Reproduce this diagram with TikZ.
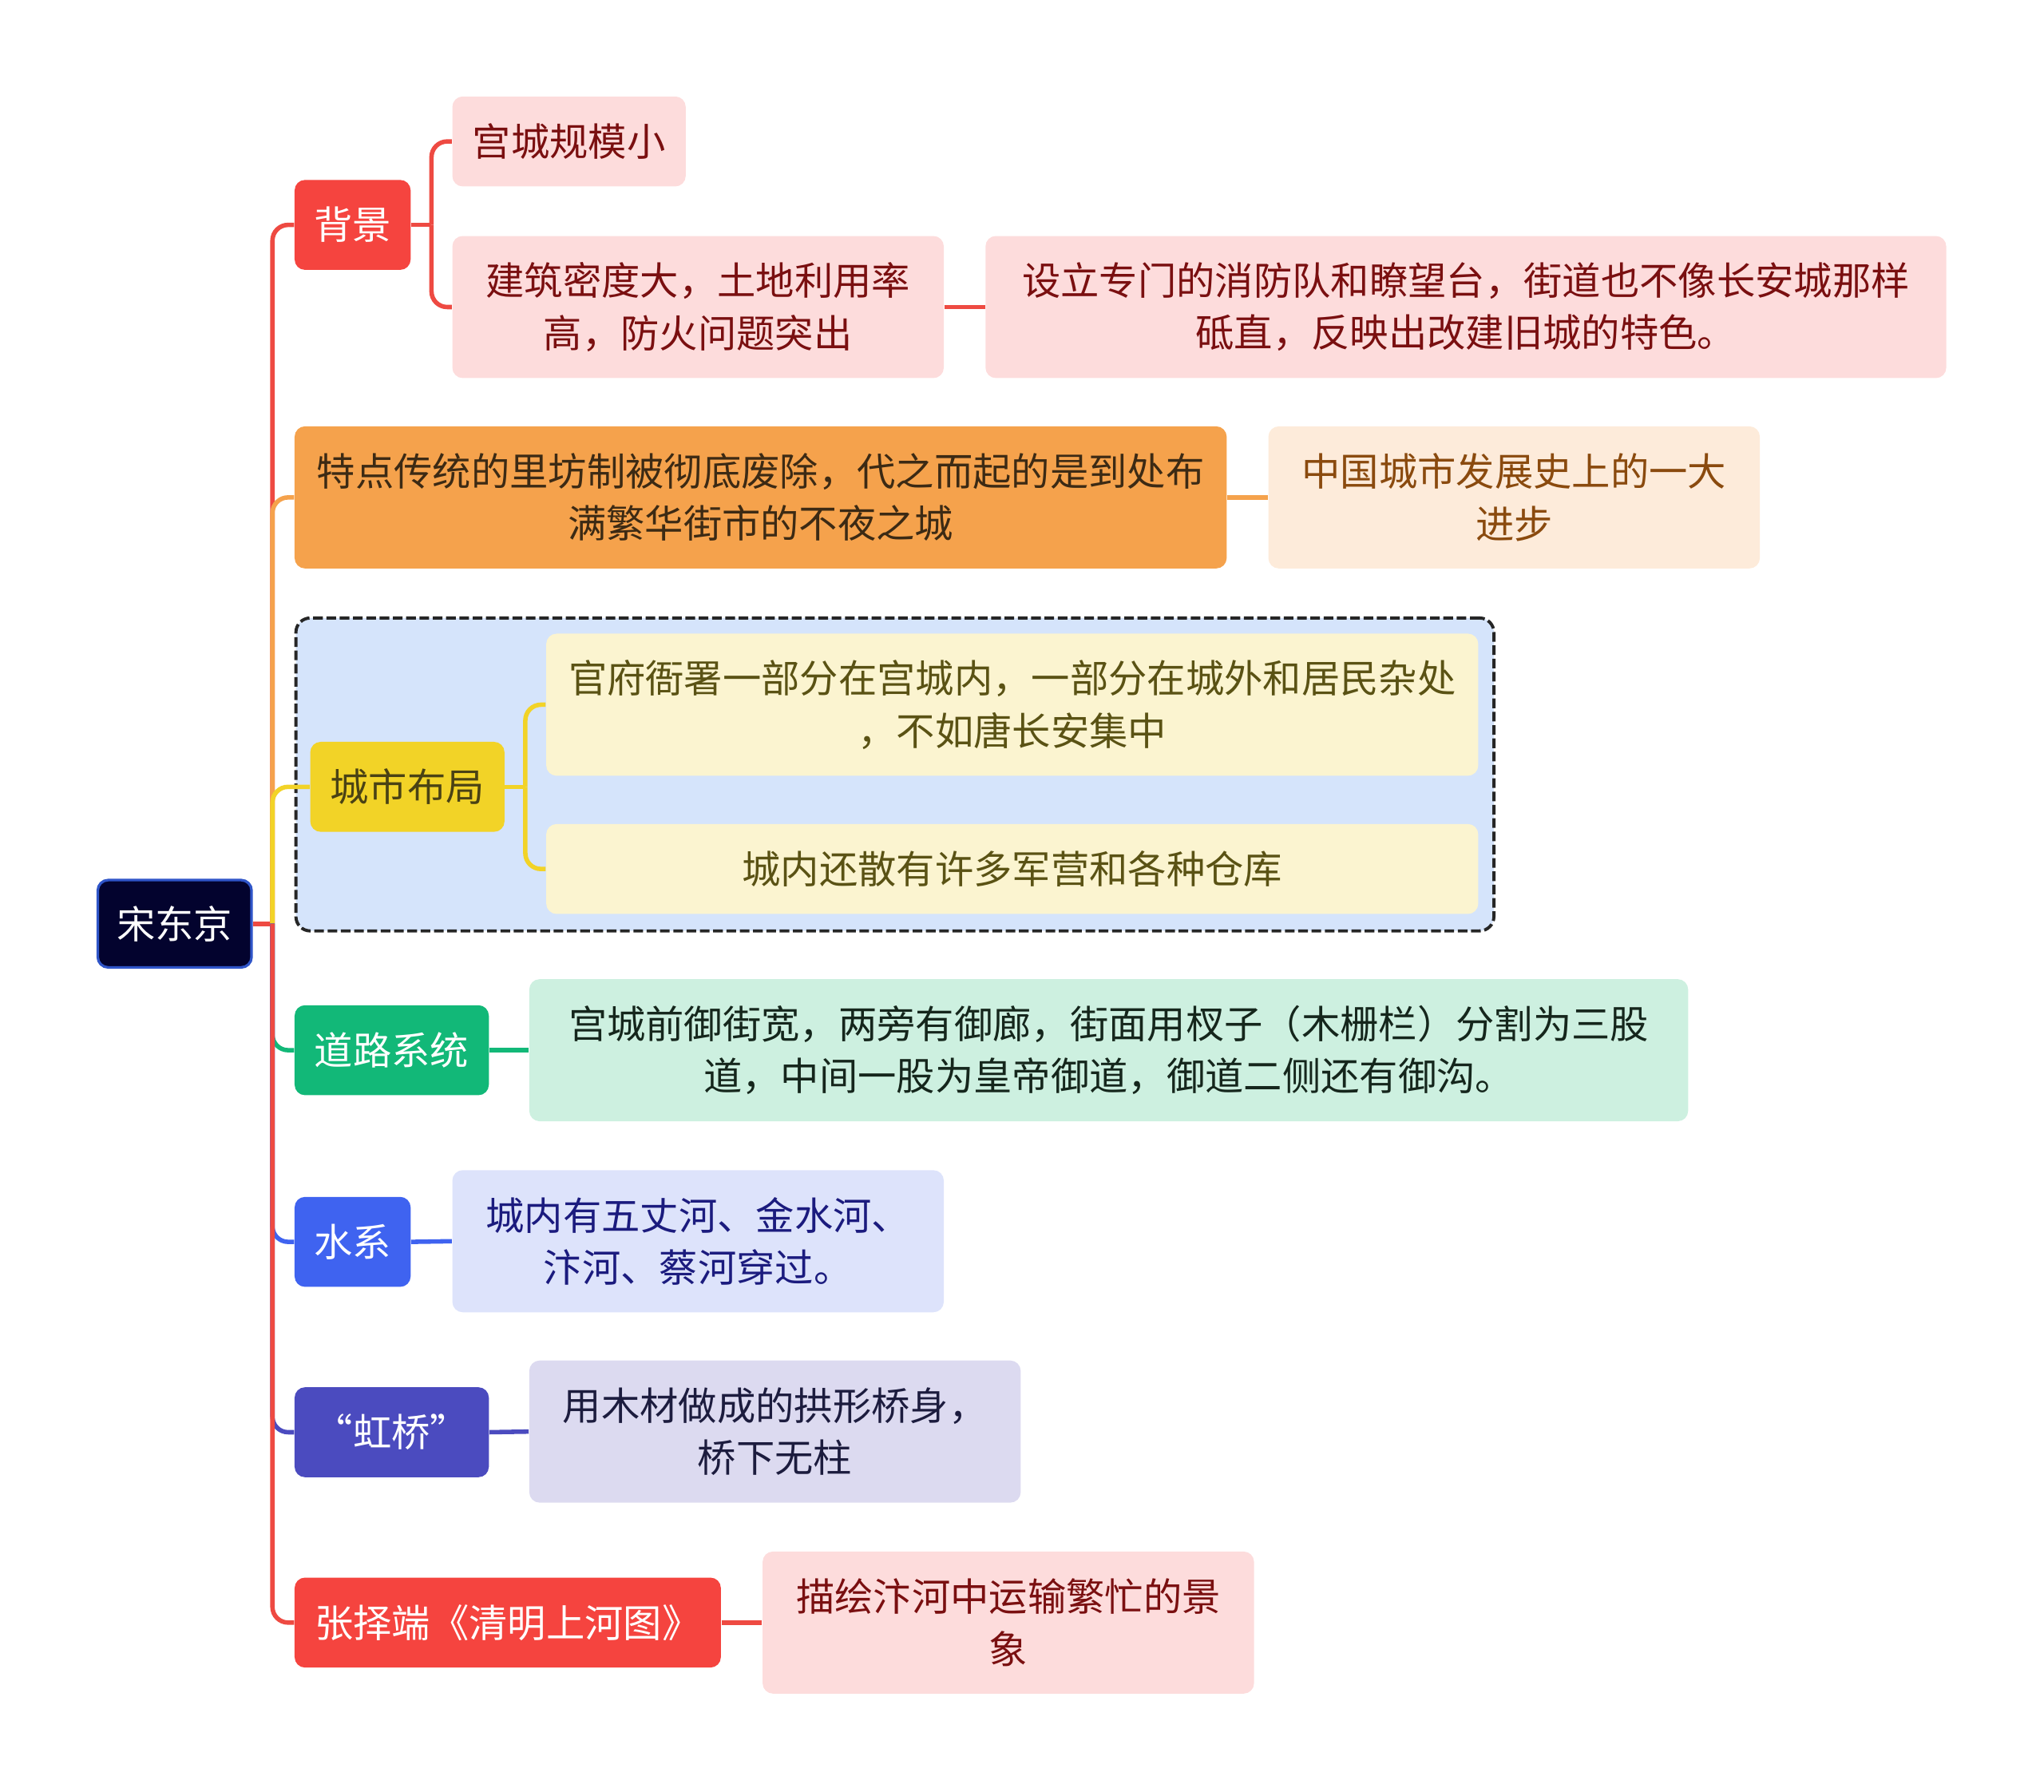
\documentclass[tikz,border=0pt]{standalone}
\usepackage{fontspec}
\setmainfont{Noto Sans CJK SC}
\usetikzlibrary{backgrounds}
\definecolor{cRed}{HTML}{F5443F}
\definecolor{cRedLine}{HTML}{EE4A42}
\definecolor{cPink}{HTML}{FDDCDC}
\definecolor{cRedTxt}{HTML}{7A0F10}
\definecolor{cOrange}{HTML}{F5A24C}
\definecolor{cOrangeTxt}{HTML}{3C2A14}
\definecolor{cPeach}{HTML}{FDEBDA}
\definecolor{cPeachTxt}{HTML}{8A4A0E}
\definecolor{cYellow}{HTML}{F2D327}
\definecolor{cYellowTxt}{HTML}{4A4214}
\definecolor{cLYellow}{HTML}{FBF4D0}
\definecolor{cLYellowTxt}{HTML}{5A5214}
\definecolor{cGroup}{HTML}{D5E4FB}
\definecolor{cGroupBd}{HTML}{262626}
\definecolor{cGreen}{HTML}{12B878}
\definecolor{cMint}{HTML}{CDF0E0}
\definecolor{cMintTxt}{HTML}{15261C}
\definecolor{cBlue}{HTML}{3F63F0}
\definecolor{cLBlue}{HTML}{DDE3FB}
\definecolor{cLBlueTxt}{HTML}{1B1B7E}
\definecolor{cIndigo}{HTML}{4B4BBF}
\definecolor{cLIndigo}{HTML}{DCDAF0}
\definecolor{cLIndigoTxt}{HTML}{1C1C3E}
\definecolor{cRoot}{HTML}{03032E}
\definecolor{cRootBd}{HTML}{2F55C8}
\begin{document}
\begin{tikzpicture}[x=0.5pt,y=-0.5pt,
  every node/.style={font=\fontsize{14.8}{20}\selectfont, align=center, inner sep=0pt},
  box/.style 2 args={rectangle, rounded corners=4pt, minimum width=#1*0.5pt, minimum height=#2*0.5pt},
  ln/.style={line width=1.7pt, rounded corners=6pt}]
\useasboundingbox (0,0) rectangle (1568,1374);

% junction coordinates
\coordinate (rj) at (209,708.5);
\coordinate (bjx) at (331,172.5);
\coordinate (cjx) at (403,603.5);

% nodes
\node[box={118}{67}, fill=cRoot, draw=cRootBd, line width=1pt, text=white] (root) at (134,708.5) {宋东京};

\node[box={89}{69}, fill=cRed, text=white] (bg) at (270.5,172.5) {背景};
\node[box={179}{69}, fill=cPink, text=cRedTxt] (gc) at (436.5,108.5) {宫城规模小};
\node[box={377}{109}, fill=cPink, text=cRedTxt] (jz) at (535.5,235.5) {建筑密度大，土地利用率\\高，防火问题突出};
\node[box={737}{109}, fill=cPink, text=cRedTxt] (sl) at (1124.5,235.5) {设立专门的消防队和瞭望台，街道也不像长安城那样\\砥直，反映出改建旧城的特色。};

\node[box={715}{109}, fill=cOrange, text=cOrangeTxt] (td) at (583.5,381.5) {特点传统的里坊制被彻底废除，代之而起的是到处布\\满繁华街市的不夜之城};
\node[box={377}{109}, fill=cPeach, text=cPeachTxt] (zg) at (1161.5,381.5) {中国城市发展史上的一大\\进步};

\node[box={149}{69}, fill=cYellow, text=cYellowTxt] (cs) at (312.5,603.5) {城市布局};
\node[box={715}{109}, fill=cLYellow, text=cLYellowTxt] (gf) at (776.5,540.5) {官府衙署一部分在宫城内，一部分在城外和居民杂处\\，不如唐长安集中};
\node[box={715}{69}, fill=cLYellow, text=cLYellowTxt] (cn) at (776.5,666.5) {城内还散有许多军营和各种仓库};

\node[box={149}{69}, fill=cGreen, text=white] (dl) at (300.5,805.5) {道路系统};
\node[box={889}{109}, fill=cMint, text=cMintTxt] (gq) at (850.5,805.5) {宫城前御街宽，两旁有御廊，街面用杈子（木栅栏）分割为三股\\道，中间一股为皇帝御道，御道二侧还有御沟。};

\node[box={89}{69}, fill=cBlue, text=white] (sx) at (270.5,952.5) {水系};
\node[box={377}{109}, fill=cLBlue, text=cLBlueTxt] (cy) at (535.5,952) {城内有五丈河、金水河、\\汴河、蔡河穿过。};

\node[box={149}{69}, fill=cIndigo, text=white] (hq) at (300.5,1098.5) {“虹桥”};
\node[box={377}{109}, fill=cLIndigo, text=cLIndigoTxt] (ym) at (594.5,1098) {用木材做成的拱形桥身，\\桥下无柱};

\node[box={327}{69}, fill=cRed, text=white] (zz) at (389.5,1244.5) {张择端《清明上河图》};
\node[box={377}{109}, fill=cPink, text=cRedTxt] (mh) at (773.5,1244.5) {描绘汴河中运输繁忙的景\\象};

% group box and connectors behind nodes
\begin{scope}[on background layer]
\node[box={919}{240}, fill=cGroup, draw=cGroupBd, dash pattern=on 3.7pt off 1.4pt, line width=1.2pt, rounded corners=5.5pt] (grp) at (686.5,594) {};
% root branches
\draw[ln, cRedLine] (root.east) -- (rj);
\draw[ln, cRedLine] (rj) |- (bg.west);
\draw[ln, cOrange] (rj) |- (td.west);
\draw[ln, cYellow] (rj) |- (cs.west);
\draw[ln, cGreen] (rj) |- (dl.west);
\draw[ln, cBlue] (rj) |- (sx.west);
\draw[ln, cIndigo] (rj) |- (hq.west);
\draw[ln, cRedLine] (rj) |- (zz.west);
% 背景 subtree
\draw[ln, cRedLine] (bg.east) -- (bjx);
\draw[ln, cRedLine] (bjx) |- (gc.west);
\draw[ln, cRedLine] (bjx) |- (jz.west);
\draw[ln, cRedLine] (jz.east) -- (sl.west);
% 特点
\draw[ln, cOrange] (td.east) -- (zg.west);
% 城市布局 subtree
\draw[ln, cYellow] (cs.east) -- (cjx);
\draw[ln, cYellow] (cjx) |- (gf.west);
\draw[ln, cYellow] (cjx) |- (cn.west);
% others
\draw[ln, cGreen] (dl.east) -- (gq.west);
\draw[ln, cBlue] (sx.east) -- (cy.west);
\draw[ln, cIndigo] (hq.east) -- (ym.west);
\draw[ln, cRedLine] (zz.east) -- (mh.west);
\end{scope}
\end{tikzpicture}
\end{document}
